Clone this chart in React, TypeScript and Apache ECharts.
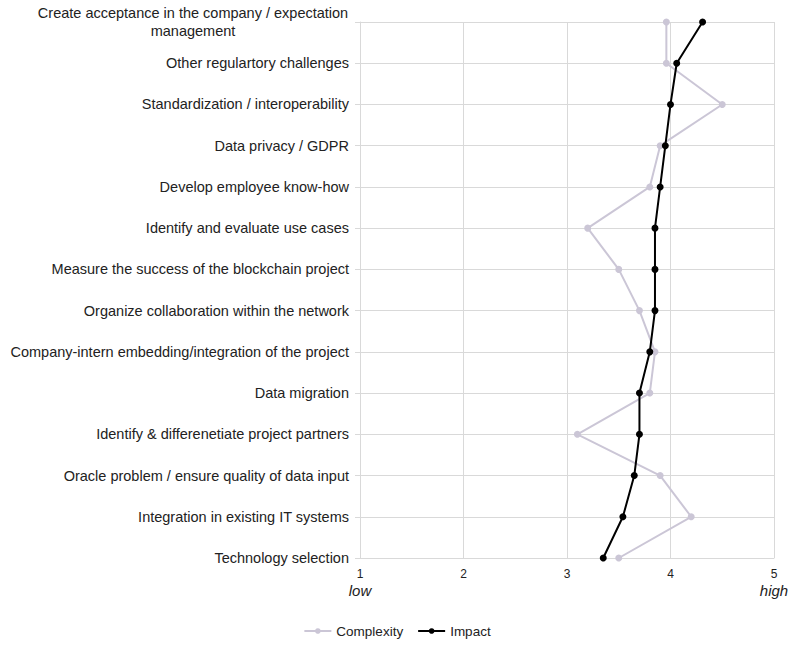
import React, { useEffect, useRef } from "react";
import * as echarts from "echarts";

const categories = [
  "Create acceptance in the company / expectation\nmanagement",
  "Other regulartory challenges",
  "Standardization / interoperability",
  "Data privacy / GDPR",
  "Develop employee know-how",
  "Identify and evaluate use cases",
  "Measure the success of the blockchain project",
  "Organize collaboration within the network",
  "Company-intern embedding/integration of the project",
  "Data migration",
  "Identify & differenetiate project partners",
  "Oracle problem / ensure quality of data input",
  "Integration in existing IT systems",
  "Technology selection",
];

const complexity = [3.96, 3.96, 4.5, 3.9, 3.8, 3.2, 3.5, 3.7, 3.85, 3.8, 3.1, 3.9, 4.2, 3.5];
const impact = [4.31, 4.06, 4.0, 3.95, 3.9, 3.85, 3.85, 3.85, 3.8, 3.7, 3.7, 3.65, 3.54, 3.35];

const xTicks = [1, 2, 3, 4, 5];
const xEndNames: Record<number, string> = { 1: "low", 5: "high" };

const FONT = "'Liberation Sans', Arial, sans-serif";

export default function App() {
  const ref = useRef<HTMLDivElement>(null);
  useEffect(() => {
    if (!ref.current) return;
    const chart = echarts.init(ref.current, undefined, { renderer: "svg" });
    chart.setOption({
      animation: false,
      textStyle: { fontFamily: FONT },
      grid: { left: 360, right: 20, top: 22, bottom: 87, outerBoundsMode: "none" },
      legend: {
        bottom: 2,
        left: "center",
        itemWidth: 27,
        itemHeight: 7,
        itemGap: 14,
        textStyle: { fontFamily: FONT, fontSize: 13.5, color: "#222" },
        data: ["Complexity", "Impact"],
      },
      xAxis: {
        type: "value",
        min: xTicks[0],
        max: xTicks[xTicks.length - 1],
        interval: 1,
        axisLine: { show: true, lineStyle: { color: "#d9d9d9", width: 1 } },
        axisTick: { show: false },
        splitLine: { show: true, lineStyle: { color: "#d9d9d9", width: 1 } },
        axisLabel: {
          margin: 8,
          fontSize: 12,
          color: "#222",
          lineHeight: 16,
          formatter: (v: number) => (xEndNames[v] ? `${v}\n{i|${xEndNames[v]}}` : `${v}`),
          rich: {
            i: { fontStyle: "italic", fontSize: 15, color: "#222", fontFamily: FONT, lineHeight: 17 },
          },
        },
      },
      yAxis: {
        type: "category",
        data: categories,
        inverse: true,
        boundaryGap: false,
        axisLine: { show: true, lineStyle: { color: "#d9d9d9", width: 1 } },
        axisTick: { show: true, length: 5, lineStyle: { color: "#d9d9d9" } },
        splitLine: { show: true, lineStyle: { color: "#d9d9d9", width: 1 } },
        axisLabel: {
          margin: 11,
          fontSize: 14.5,
          color: "#222",
          interval: 0,
          formatter: (v: string) => {
            if (v.indexOf("\n") >= 0) {
              return v
                .split("\n")
                .map((s) => `{c|${s}}`)
                .join("\n");
            }
            return v;
          },
          rich: {
            c: { width: 312, align: "center", fontSize: 14.5, color: "#222", fontFamily: FONT, lineHeight: 18 },
          },
        },
      },
      series: [
        {
          name: "Complexity",
          type: "line",
          data: complexity,
          symbol: "circle",
          symbolSize: 7,
          itemStyle: { color: "#cbc6d6" },
          lineStyle: { color: "#cbc6d6", width: 2 },
        },
        {
          name: "Impact",
          type: "line",
          data: impact,
          symbol: "circle",
          symbolSize: 7,
          itemStyle: { color: "#000000" },
          lineStyle: { color: "#000000", width: 2 },
          z: 3,
        },
      ],
    });
    return () => chart.dispose();
  }, []);
  return (
    <div
      ref={ref}
      style={{ position: "fixed", left: 0, top: 0, width: 794, height: 645, background: "#fff" }}
    />
  );
}
